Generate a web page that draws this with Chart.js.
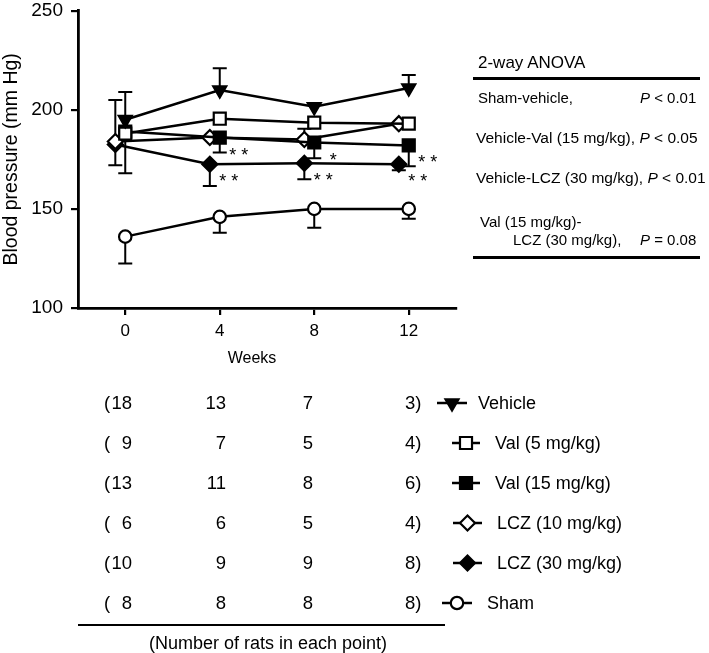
<!DOCTYPE html>
<html><head><meta charset="utf-8">
<script src="https://cdn.jsdelivr.net/npm/chart.js@4.4.1/dist/chart.umd.min.js"></script>
<style>
html,body{margin:0;padding:0;background:#fff;}
#wrap{position:relative;width:709px;height:653px;font-family:"Liberation Sans",Arial,Helvetica,sans-serif;color:#000;overflow:hidden;}
#c{position:absolute;left:0;top:0;}
.t{position:absolute;white-space:nowrap;height:22px;line-height:22px;}
.hl{position:absolute;background:#000;}
i{font-style:italic;}
</style></head><body>
<div id="wrap"><canvas id="c" width="709" height="653"></canvas><div id="txt"></div></div>
<script>
// ---------- data ----------
const weeks = [0, 4, 8, 12];
const xTicks = [0, 4, 8, 12];
const yTicks = [100, 150, 200, 250];
const seriesNames = ['Vehicle', 'Val (5 mg/kg)', 'Val (15 mg/kg)', 'LCZ (10 mg/kg)', 'LCZ (30 mg/kg)', 'Sham'];
const vehicle = [195, 210, 201.5, 211];
const val5    = [188, 195.5, 193.5, 193];
const val15   = [189, 186, 183.5, 182];
const lcz10   = [184, 186, 185, 193];
const lcz30   = [182.5, 172.5, 173, 172.5];
const sham    = [136, 146, 150, 150];
// error bars (drawn upward / downward)
const vehicleErrUp   = [14, 11, 0, 6.5];
const vehicleErrDown = [0, 0, 0, 0];
const val5ErrUp      = [0, 0, 0, 0];
const val5ErrDown    = [20, 0, 0, 0];
const val15ErrUp     = [0, 0, 0, 0];
const val15ErrDown   = [0, 7.5, 8, 10.5];
const lcz10ErrUp     = [0, 0, 5.5, 0];
const lcz10ErrDown   = [0, 0, 0, 0];
const lcz30ErrUp     = [22.5, 0, 0, 0];
const lcz30ErrDown   = [10.5, 11, 8, 3];
const shamErrUp      = [0, 0, 0, 0];
const shamErrDown    = [13.5, 8, 9.5, 5];
// significance marks
const val15Sig = ['', '**', '*', '**'];
const lcz30Sig = ['', '**', '**', '**'];
// number of rats per point (rows follow seriesNames)
const ratCounts = [
  [18, 13, 7, 3],
  [9, 7, 5, 4],
  [13, 11, 8, 6],
  [6, 6, 5, 4],
  [10, 9, 9, 8],
  [8, 8, 8, 8]
];
const anovaTitle = '2-way ANOVA';

// ---------- styles ----------
const styles = [
  {style: 'triangle', rot: 180, r: 7.5, fill: '#000', dodge: 0},
  {style: 'rect', rot: 0, r: 8.5, fill: '#fff', dodge: 0},
  {style: 'rect', rot: 0, r: 8.5, fill: '#000', dodge: 0},
  {style: 'rectRot', rot: 0, r: 7.5, fill: '#fff', dodge: -0.42},
  {style: 'rectRot', rot: 0, r: 7.5, fill: '#000', dodge: -0.42},
  {style: 'circle', rot: 0, r: 6.2, fill: '#fff', dodge: 0}
];
const values = [vehicle, val5, val15, lcz10, lcz30, sham];
const errUp = [vehicleErrUp, val5ErrUp, val15ErrUp, lcz10ErrUp, lcz30ErrUp, shamErrUp];
const errDown = [vehicleErrDown, val5ErrDown, val15ErrDown, lcz10ErrDown, lcz30ErrDown, shamErrDown];
const sigs = [null, null, val15Sig, null, lcz30Sig, null];

const datasets = values.map((vals, k) => ({
  label: seriesNames[k],
  data: vals.map((v, i) => ({x: weeks[i] + styles[k].dodge, y: v})),
  borderColor: '#000',
  borderWidth: 2.5,
  pointStyle: styles[k].style,
  pointRotation: styles[k].rot,
  pointRadius: styles[k].r,
  pointBorderWidth: 2.2,
  pointBackgroundColor: styles[k].fill,
  pointBorderColor: '#000',
  tension: 0,
  fill: false,
  errUp: errUp[k],
  errDown: errDown[k],
  sig: sigs[k]
}));

const errorBars = {
  id: 'errorBars',
  beforeDatasetsDraw(chart) {
    const ctx = chart.ctx, ys = chart.scales.y;
    ctx.save();
    ctx.strokeStyle = '#000';
    ctx.lineWidth = 2;
    chart.data.datasets.forEach((ds, k) => {
      const meta = chart.getDatasetMeta(k);
      meta.data.forEach((pt, i) => {
        const v = ds.data[i].y;
        [[ds.errUp[i], 1], [ds.errDown[i], -1]].forEach(([e, s]) => {
          if (!e) return;
          const yp = ys.getPixelForValue(v + s * e);
          ctx.beginPath();
          ctx.moveTo(pt.x, pt.y);
          ctx.lineTo(pt.x, yp);
          ctx.moveTo(pt.x - 7, yp);
          ctx.lineTo(pt.x + 7, yp);
          ctx.stroke();
        });
      });
    });
    ctx.restore();
  },
  afterDatasetsDraw(chart) {
    const ctx = chart.ctx;
    ctx.save();
    ctx.fillStyle = '#000';
    ctx.font = '18px "Liberation Sans", Arial, sans-serif';
    ctx.textAlign = 'center';
    ctx.textBaseline = 'alphabetic';
    chart.data.datasets.forEach((ds, k) => {
      if (!ds.sig) return;
      const meta = chart.getDatasetMeta(k);
      meta.data.forEach((pt, i) => {
        const s = ds.sig[i];
        if (!s) return;
        ctx.fillText(s.split('').join(' '), pt.x + 19, pt.y + 13 + 10);
      });
    });
    ctx.restore();
  },
  afterDraw(chart) {
    // legend markers beside the rat-count table
    const ctx = chart.ctx;
    const lines = [[437, 467], [452, 480], [452, 480], [453, 482], [453, 482], [442, 472]];
    ctx.save();
    styles.forEach((st, k) => {
      const y = 403 + 40 * k;
      const [x0, x1] = lines[k];
      const xc = (x0 + x1) / 2;
      ctx.strokeStyle = '#000';
      ctx.lineWidth = 2.5;
      ctx.beginPath(); ctx.moveTo(x0, y); ctx.lineTo(x1, y); ctx.stroke();
      ctx.fillStyle = st.fill;
      ctx.lineWidth = 2.2;
      Chart.helpers.drawPoint(ctx, {pointStyle: st.style, rotation: st.rot, radius: st.r, borderWidth: 2.2}, xc, y);
    });
    ctx.restore();
  }
};

new Chart(document.getElementById('c'), {
  type: 'line',
  data: {datasets},
  options: {
    responsive: false,
    animation: false,
    events: [],
    layout: {padding: {left: 0, top: 9, right: 253, bottom: 305}},
    plugins: {legend: {display: false}, tooltip: {enabled: false}},
    scales: {
      x: {
        type: 'linear', min: -2, max: 14,
        afterBuildTicks: s => { s.ticks = xTicks.map(v => ({value: v})); },
        afterFit: s => { s.height = 40; s.paddingLeft = 0; s.paddingRight = 0; },
        grid: {drawOnChartArea: false, drawTicks: true, tickLength: 7, tickColor: '#000', tickWidth: 2.2, lineWidth: 2.2},
        border: {display: true, color: '#000', width: 2.8},
        ticks: {color: '#000', padding: 6, font: {family: '"Liberation Sans", Arial, sans-serif', size: 17}, maxRotation: 0}
      },
      y: {
        type: 'linear', min: 100, max: 250,
        afterBuildTicks: s => { s.ticks = yTicks.map(v => ({value: v})); },
        afterFit: s => { s.width = 78; s.paddingTop = 0; s.paddingBottom = 0; },
        grid: {drawOnChartArea: false, drawTicks: true, tickLength: 7, tickColor: '#000', tickWidth: 2.2, lineWidth: 2.2},
        border: {display: true, color: '#000', width: 2.8},
        ticks: {color: '#000', padding: 8, font: {family: '"Liberation Sans", Arial, sans-serif', size: 19}},
        title: {display: true, text: 'Blood pressure (mm Hg)', color: '#000', padding: 0,
                font: {family: '"Liberation Sans", Arial, sans-serif', size: 19.5}}
      }
    }
  },
  plugins: [errorBars]
});

// ---------- static text (HTML) ----------
const txt = document.getElementById('txt');
function put(html, x, yc, size, align, extra) {
  const d = document.createElement('div');
  d.className = 't';
  d.innerHTML = html;
  d.style.fontSize = size + 'px';
  d.style.top = (yc - 11) + 'px';
  if (align === 'right') { d.style.right = (709 - x) + 'px'; }
  else if (align === 'center') { d.style.left = x + 'px'; d.style.transform = 'translateX(-50%)'; }
  else { d.style.left = x + 'px'; }
  if (extra) Object.assign(d.style, extra);
  txt.appendChild(d);
}
function hline(x, y, w, h) {
  const d = document.createElement('div');
  d.className = 'hl';
  Object.assign(d.style, {left: x + 'px', top: y + 'px', width: w + 'px', height: h + 'px'});
  txt.appendChild(d);
}
put('Weeks', 252, 358, 16, 'center');
// ANOVA box
put(anovaTitle, 478, 63, 17, 'left');
hline(473, 77, 227, 3);
put('Sham-vehicle,', 478, 98, 15, 'left');
put('<i>P</i> &lt; 0.01', 640, 98, 15, 'left');
put('Vehicle-Val (15 mg/kg), <i>P</i> &lt; 0.05', 476, 138, 15.5, 'left');
put('Vehicle-LCZ (30 mg/kg), <i>P</i> &lt; 0.01', 476, 178, 15.5, 'left');
put('Val (15 mg/kg)-', 480, 222, 15, 'left');
put('LCZ (30 mg/kg),', 513, 240, 15, 'left');
put('<i>P</i> = 0.08', 640, 240, 15, 'left');
hline(473, 256, 227, 3);
// rat counts table + legend labels
const legendTextX = [478, 495, 495, 497, 497, 487];
ratCounts.forEach((row, k) => {
  const yc = 403 + 40 * k;
  put('(', 104, yc, 18.5, 'left');
  put(String(row[0]), 132, yc, 18.5, 'right');
  put(String(row[1]), 226, yc, 18.5, 'right');
  put(String(row[2]), 308, yc, 18.5, 'center');
  put(row[3] + ')', 405, yc, 18.5, 'left');
  put(seriesNames[k], legendTextX[k], yc, 18, 'left');
});
hline(78, 624, 367, 1.5);
put('(Number of rats in each point)', 268, 643, 18, 'center');
</script>
</body></html>
